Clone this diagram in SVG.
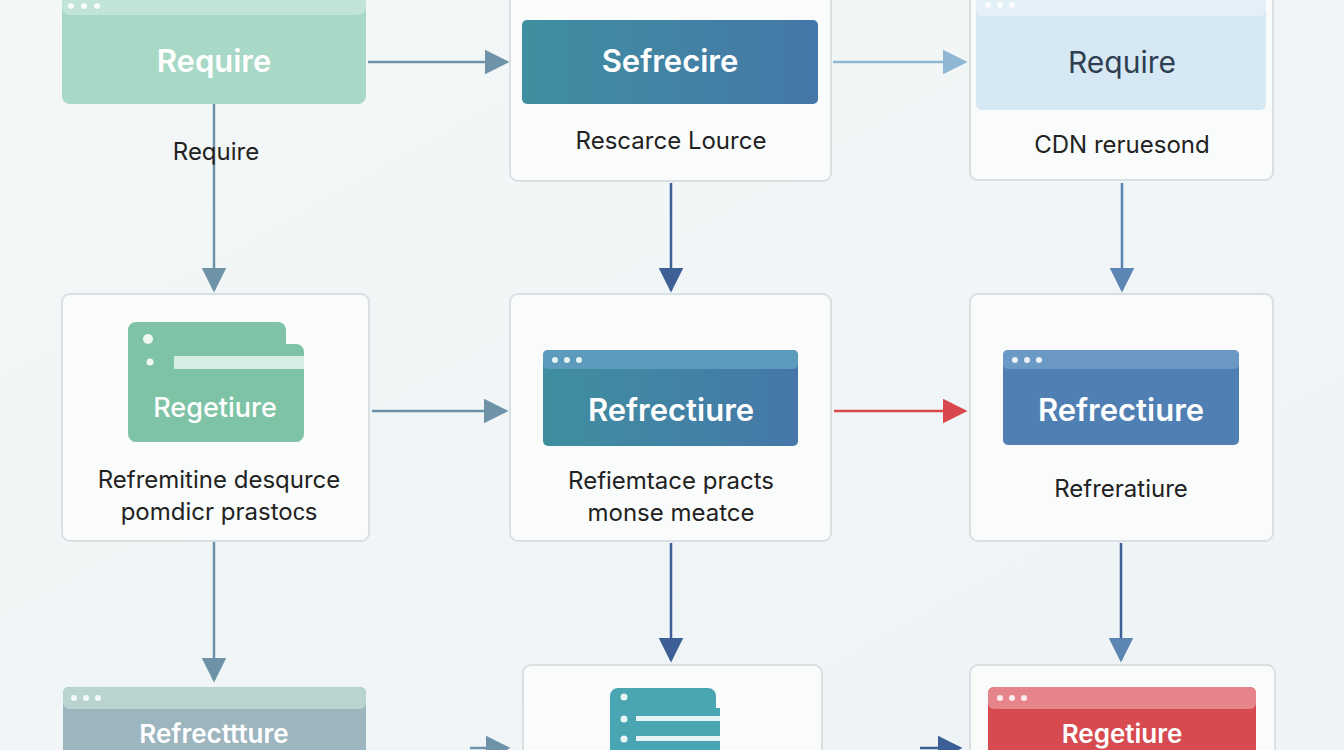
<svg xmlns="http://www.w3.org/2000/svg" width="1344" height="750" viewBox="0 0 1344 750">
<defs>
<linearGradient id="bg" x1="0" y1="0" x2="1" y2="1"><stop offset="0" stop-color="#f3f7f6"/><stop offset="1" stop-color="#eef3f7"/></linearGradient>
<linearGradient id="teal" x1="0" y1="0" x2="1" y2="0"><stop offset="0" stop-color="#3f8fa0"/><stop offset="1" stop-color="#4577a8"/></linearGradient>
<marker id="ag" markerWidth="10" markerHeight="10" refX="9" refY="5" orient="auto" viewBox="0 0 10 10"><path d="M0,0L10,5L0,10z" fill="#6e93a8"/></marker>
<marker id="ab" markerWidth="10" markerHeight="10" refX="9" refY="5" orient="auto" viewBox="0 0 10 10"><path d="M0,0L10,5L0,10z" fill="#3c5f95"/></marker>
<marker id="al" markerWidth="10" markerHeight="10" refX="9" refY="5" orient="auto" viewBox="0 0 10 10"><path d="M0,0L10,5L0,10z" fill="#8fb6d3"/></marker>
<marker id="am" markerWidth="10" markerHeight="10" refX="9" refY="5" orient="auto" viewBox="0 0 10 10"><path d="M0,0L10,5L0,10z" fill="#5b86b3"/></marker>
<marker id="ar" markerWidth="10" markerHeight="10" refX="9" refY="5" orient="auto" viewBox="0 0 10 10"><path d="M0,0L10,5L0,10z" fill="#d9464c"/></marker>
</defs>
<style>
.card{fill:#fafcfc;stroke:#d8e0e4;stroke-width:2}
.t{font-family:"Inter","Liberation Sans",sans-serif;text-anchor:middle}
.w{fill:#fff;font-size:31px;font-weight:600}
.d{fill:#222;font-size:24px}
.dot{fill:#fff;opacity:.85}
.c{fill:none;stroke-width:2.5}
</style>
<rect width="1344" height="750" fill="url(#bg)"/>
<g id="connectors">
<line class="c" x1="368" y1="62" x2="507" y2="62" stroke="#6e93a8" marker-end="url(#ag)"/>
<line class="c" x1="833" y1="62" x2="965" y2="62" stroke="#8fb6d3" marker-end="url(#al)"/>
<line class="c" x1="214" y1="104" x2="214" y2="290" stroke="#6e93a8" marker-end="url(#ag)"/>
<line class="c" x1="671" y1="183" x2="671" y2="290" stroke="#3c5f95" marker-end="url(#ab)"/>
<line class="c" x1="1122" y1="183" x2="1122" y2="290" stroke="#5b86b3" marker-end="url(#am)"/>
<line class="c" x1="372" y1="411" x2="506" y2="411" stroke="#6e93a8" marker-end="url(#ag)"/>
<line class="c" x1="834" y1="411" x2="965" y2="411" stroke="#d9464c" marker-end="url(#ar)"/>
<line class="c" x1="214" y1="541" x2="214" y2="680" stroke="#6e93a8" marker-end="url(#ag)"/>
<line class="c" x1="671" y1="543" x2="671" y2="660" stroke="#3c5f95" marker-end="url(#ab)"/>
<line class="c" x1="1121" y1="543" x2="1121" y2="660" stroke="#3c5f95" marker-end="url(#am)"/>
<line class="c" x1="470" y1="748" x2="508" y2="748" stroke="#6e93a8" marker-end="url(#ag)"/>
<line class="c" x1="920" y1="748" x2="960" y2="748" stroke="#3c5f95" marker-end="url(#ab)"/>
<text class="t d" x="216" y="160">Require</text>
</g>
<g id="n1">
<rect x="62" y="-10" width="304" height="114" rx="8" fill="#a8d8c6"/>
<rect x="62" y="-10" width="304" height="25" rx="8" fill="#c2e4d8"/>
<circle class="dot" cx="71" cy="6" r="3"/><circle class="dot" cx="84" cy="6" r="3"/><circle class="dot" cx="97" cy="6" r="3"/>
<text class="t w" x="214" y="72">Require</text>
</g>
<g id="n2">
<rect class="card" x="510" y="-10" width="321" height="191" rx="8"/>
<rect x="522" y="20" width="296" height="84" rx="5" fill="url(#teal)"/>
<text class="t w" x="670" y="72">Sefrecire</text>
<text class="t d" x="671" y="149">Rescarce Lource</text>
</g>
<g id="n3">
<rect class="card" x="970" y="-10" width="303" height="190" rx="8"/>
<rect x="976" y="-8" width="290" height="118" rx="6" fill="#d6e8f3"/>
<rect x="976" y="-8" width="290" height="24" rx="6" fill="#e4f0f7"/>
<circle class="dot" cx="988" cy="5" r="3"/><circle class="dot" cx="1000" cy="5" r="3"/><circle class="dot" cx="1012" cy="5" r="3"/>
<text class="t" x="1122" y="73" style="font-size:30px;fill:#2e3f52">Require</text>
<text class="t d" x="1122" y="153">CDN reruesond</text>
</g>
<g id="n4">
<rect class="card" x="62" y="294" width="307" height="247" rx="8"/>
<path d="M128,330a8,8 0 0 1 8,-8h142a8,8 0 0 1 8,8v14h10a8,8 0 0 1 8,8v82a8,8 0 0 1 -8,8h-160a8,8 0 0 1 -8,-8z" fill="#7fc3a7"/>
<circle cx="148" cy="339" r="5" fill="#f0f8f4"/><circle cx="150" cy="362" r="3.5" fill="#f0f8f4"/>
<rect x="174" y="356" width="130" height="13" fill="#d6ede3"/>
<text class="t" x="215" y="417" style="fill:#fff;font-size:27px;font-weight:500">Regetiure</text>
<text class="t d" x="219" y="488">Refremitine desqurce</text>
<text class="t d" x="219" y="520">pomdicr prastoᴄs</text>
</g>
<g id="n5">
<rect class="card" x="510" y="294" width="321" height="247" rx="8"/>
<rect x="543" y="350" width="255" height="96" rx="5" fill="url(#teal)"/>
<rect x="543" y="350" width="255" height="19" rx="5" fill="#5d9bbd"/>
<circle class="dot" cx="555" cy="360" r="3"/><circle class="dot" cx="567" cy="360" r="3"/><circle class="dot" cx="579" cy="360" r="3"/>
<text class="t w" x="671" y="421">Refrectiure</text>
<text class="t d" x="671" y="489">Refiemtace practs</text>
<text class="t d" x="671" y="521">monse meatce</text>
</g>
<g id="n6">
<rect class="card" x="970" y="294" width="303" height="247" rx="8"/>
<rect x="1003" y="350" width="236" height="95" rx="5" fill="#4f7fb3"/>
<rect x="1003" y="350" width="236" height="19" rx="5" fill="#6c98c5"/>
<circle class="dot" cx="1015" cy="360" r="3"/><circle class="dot" cx="1027" cy="360" r="3"/><circle class="dot" cx="1039" cy="360" r="3"/>
<text class="t w" x="1121" y="421">Refrectiure</text>
<text class="t d" x="1121" y="497">Refreratiure</text>
</g>
<g id="n7">
<rect x="63" y="687" width="303" height="80" rx="6" fill="#9db5bf"/>
<rect x="63" y="687" width="303" height="22" rx="6" fill="#b8d3d0"/>
<circle class="dot" cx="74" cy="698" r="3"/><circle class="dot" cx="86" cy="698" r="3"/><circle class="dot" cx="98" cy="698" r="3"/>
<text class="t" x="214" y="743" style="fill:#fff;font-size:26px;font-weight:600">Refrecttture</text>
</g>
<g id="n8">
<rect class="card" x="523" y="665" width="299" height="100" rx="8"/>
<path d="M610,696a8,8 0 0 1 8,-8h90a8,8 0 0 1 8,8v12h4v60h-110z" fill="#4aa5b3"/>
<circle cx="624" cy="697" r="3.5" fill="#e6f4f6"/><circle cx="624" cy="719" r="3.5" fill="#e6f4f6"/><circle cx="624" cy="739" r="3.5" fill="#e6f4f6"/>
<rect x="636" y="716" width="84" height="5" fill="#e6f4f6"/><rect x="636" y="736" width="84" height="5" fill="#e6f4f6"/>
</g>
<g id="n9">
<rect class="card" x="970" y="665" width="305" height="100" rx="8"/>
<rect x="988" y="687" width="268" height="80" rx="6" fill="#d64a50"/>
<rect x="988" y="687" width="268" height="22" rx="6" fill="#e5848a"/>
<circle class="dot" cx="1000" cy="698" r="3"/><circle class="dot" cx="1012" cy="698" r="3"/><circle class="dot" cx="1024" cy="698" r="3"/>
<text class="t" x="1122" y="743" style="fill:#fff;font-size:26px;font-weight:600">Regetiure</text>
</g>
</svg>
